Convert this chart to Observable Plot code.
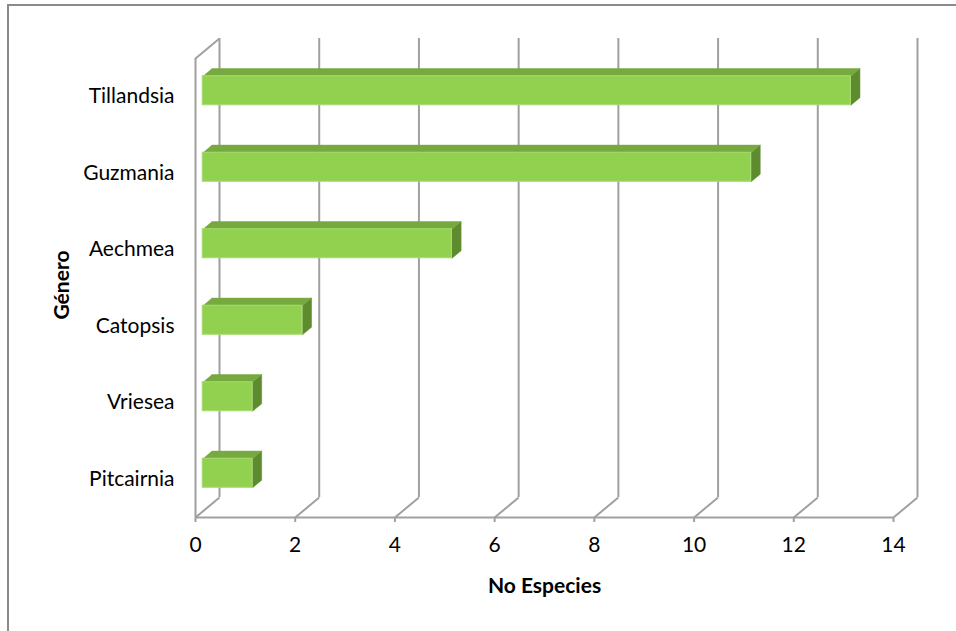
<!DOCTYPE html>
<html>
<head>
<meta charset="utf-8">
<script src="https://cdn.jsdelivr.net/npm/d3@7"></script>
<script src="https://cdn.jsdelivr.net/npm/@observablehq/plot@0.6"></script>
<style>
  html, body { margin: 0; padding: 0; background: #fff; overflow: hidden; }
  #wrap { position: relative; width: 956px; height: 631px; }
  #border { position: absolute; left: 7px; top: 4px; width: 2000px; height: 2000px;
            border-left: 2px solid #8a8a8a; border-top: 2px solid #8a8a8a; pointer-events: none; }
</style>
</head>
<body>
<div id="wrap"><div id="chart"></div><div id="border"></div></div>
<script>
// ---- data ----
const categories = ["Tillandsia", "Guzmania", "Aechmea", "Catopsis", "Vriesea", "Pitcairnia"];
const values = [13, 11, 5, 2, 1, 1];
const xTicks = [0, 2, 4, 6, 8, 10, 12, 14];
const xTitle = "No Especies";
const yTitle = "Género";

// ---- layout / style constants ----
const W = 956, H = 631;
const mL = 195, mR = 63, mT = 58, mB = 114;
const xMax = 14;
const KX = (W - mL - mR) / xMax;               // px per x unit
const KY = (H - mT - mB) / categories.length;   // px per category
const DX = 24, DY = 20;                          // full 3D depth offset in px
const Z0 = 0.3, Z1 = 0.68;                       // bar depth extent
const HALF = 0.19;                               // half bar thickness (category units)
const grid = "#a0a0a0";
const cFront = "#92d050", cTop = "#76a93e", cSide = "#5f8b2f";

// project a point at depth z into data coordinates
const px = (x, z) => x + z * DX / KX;
const py = (y, z) => y - z * DY / KY;

const bars = categories.map((c, i) => ({c, i, v: values[i]}));

const topFaces = [], sideFaces = [];
bars.forEach(b => {
  const yt = b.i - HALF, yb = b.i + HALF;
  [[0, yt, Z0], [b.v, yt, Z0], [b.v, yt, Z1], [0, yt, Z1]].forEach(([x, y, z]) =>
    topFaces.push({k: b.c, x: px(x, z), y: py(y, z)}));
  [[b.v, yt, Z0], [b.v, yb, Z0], [b.v, yb, Z1], [b.v, yt, Z1]].forEach(([x, y, z]) =>
    sideFaces.push({k: b.c, x: px(x, z), y: py(y, z)}));
});

const yLo = -0.5, yHi = categories.length - 0.5;

const plot = Plot.plot({
  width: W, height: H,
  marginLeft: mL, marginRight: mR, marginTop: mT, marginBottom: mB,
  style: {fontFamily: "Lato, 'Open Sans', sans-serif", fontSize: "21px", background: "transparent", color: "#000"},
  x: {domain: [0, xMax], axis: null},
  y: {domain: [yHi, yLo], axis: null},
  marks: [
    // back wall vertical gridlines
    Plot.ruleX(xTicks, {x: d => d, y1: yLo, y2: yHi, dx: DX, dy: -DY, stroke: grid, strokeWidth: 2}),
    // floor diagonals
    Plot.link(xTicks, {x1: d => d, y1: yHi, x2: d => px(d, 1), y2: py(yHi, 1), stroke: grid, strokeWidth: 2}),
    // front floor edge
    Plot.ruleY([yHi], {x1: 0, x2: xMax, stroke: grid, strokeWidth: 2}),
    // left wall front edge and top diagonal
    Plot.ruleX([0], {y1: yLo, y2: yHi, stroke: grid, strokeWidth: 2}),
    Plot.link([0], {x1: 0, y1: yLo, x2: px(0, 1), y2: py(yLo, 1), stroke: grid, strokeWidth: 2}),
    // bars: top, side, front
    Plot.line(topFaces, {x: "x", y: "y", z: "k", fill: cTop, stroke: cTop, strokeWidth: 0.5}),
    Plot.line(sideFaces, {x: "x", y: "y", z: "k", fill: cSide, stroke: cSide, strokeWidth: 0.5}),
    Plot.rect(bars, {x1: 0, x2: "v", y1: d => d.i - HALF, y2: d => d.i + HALF,
      dx: Z0 * DX, dy: -Z0 * DY, fill: cFront, stroke: "#a6dc72", strokeWidth: 1}),
    // axes
    Plot.axisX(xTicks, {anchor: "bottom", tickSize: 5, tickPadding: 15, stroke: grid, strokeWidth: 2, fill: "#000", fontSize: 21, label: null}),
    Plot.axisY(d3.range(categories.length), {anchor: "left", tickSize: 0, tickPadding: 21, tickFormat: i => categories[i], fill: "#000", fontSize: 21, label: null}),
    // axis titles
    Plot.text([xTitle], {frameAnchor: "bottom", textAnchor: "middle", lineAnchor: "middle", dy: 69, text: d => d, fontWeight: "bold", fontSize: 21}),
    Plot.text([yTitle], {frameAnchor: "left", textAnchor: "middle", lineAnchor: "middle", dx: -133, dy: -3, text: d => d, rotate: -90, fontWeight: "bold", fontSize: 21})
  ]
});
document.getElementById("chart").appendChild(plot);
</script>
</body>
</html>
